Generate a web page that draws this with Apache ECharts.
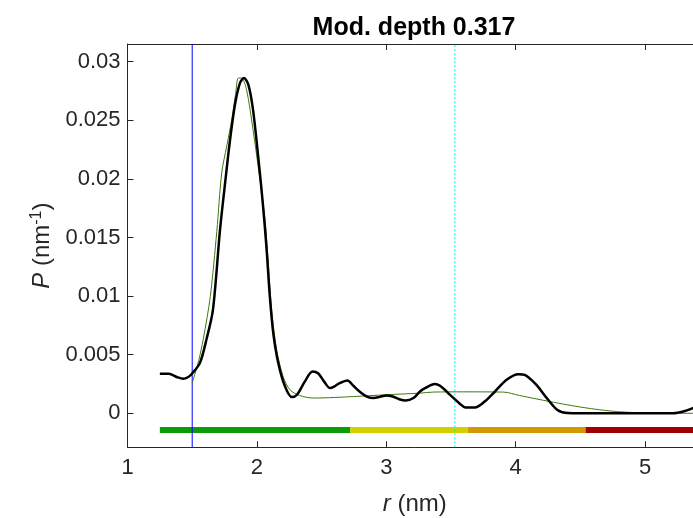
<!DOCTYPE html>
<html>
<head>
<meta charset="utf-8">
<script src="https://cdn.jsdelivr.net/npm/echarts@6/dist/echarts.min.js"></script>
<style>
html,body{margin:0;padding:0;overflow:hidden;background:#fff;width:693px;height:518px;}
#c{width:760px;height:518px;}
</style>
</head>
<body>
<div id="c"></div>
<script>
// ---- data ----
const titleText = 'Mod. depth 0.317';
const xTicks = [1, 2, 3, 4, 5];
const yTicks = [0, 0.005, 0.01, 0.015, 0.02, 0.025, 0.03];
const xRange = [1, 5.44];
const yRange = [-0.0029, 0.0315];

const rBlack = [1.25, 1.32, 1.38, 1.43, 1.47, 1.50, 1.56, 1.61, 1.66, 1.715, 1.76, 1.79, 1.83, 1.87, 1.90, 1.935, 1.97, 2.01, 2.045, 2.075, 2.10, 2.127, 2.165, 2.217, 2.27, 2.31, 2.37, 2.43, 2.475, 2.52, 2.565, 2.60, 2.64, 2.70, 2.745, 2.80, 2.85, 2.90, 2.95, 3.00, 3.05, 3.10, 3.15, 3.21, 3.26, 3.30, 3.376, 3.43, 3.48, 3.52, 3.57, 3.61, 3.685, 3.76, 3.84, 3.93, 4.02, 4.07, 4.16, 4.24, 4.32, 4.40, 4.50, 4.70, 4.90, 5.10, 5.22, 5.295, 5.37, 5.44];
const pBlack = [0.00337, 0.00337, 0.0031, 0.00294, 0.0031, 0.0034, 0.0043, 0.0063, 0.0088, 0.01565, 0.0202, 0.0231, 0.0263, 0.0282, 0.0286, 0.028, 0.0259, 0.0219, 0.018, 0.0140, 0.00997, 0.0068, 0.0043, 0.0023, 0.00138, 0.00158, 0.0027, 0.00357, 0.0034, 0.0027, 0.00215, 0.0023, 0.00258, 0.0028, 0.00235, 0.0018, 0.00143, 0.0013, 0.0014, 0.00152, 0.00143, 0.0012, 0.00109, 0.0013, 0.00186, 0.00215, 0.00249, 0.00223, 0.0017, 0.0013, 0.0008, 0.0005, 0.0005, 0.001, 0.00186, 0.00286, 0.00334, 0.00328, 0.00243, 0.0013, 0.0003, 0.00002, 0, 0, 0, 0, 0, 0.00015, 0.00044, 0.0008];

const rGreen = [1.50, 1.55, 1.585, 1.64, 1.69, 1.728, 1.767, 1.805, 1.835, 1.856, 1.88, 1.92, 1.97, 2.024, 2.063, 2.09, 2.114, 2.153, 2.204, 2.256, 2.33, 2.436, 2.6, 2.745, 3.0, 3.26, 3.36, 3.6, 3.905, 4.03, 4.15, 4.265, 4.4, 4.52, 4.65, 4.78, 4.9, 5.04, 5.2, 5.44];
const pGreen = [0.00258, 0.0045, 0.0063, 0.00997, 0.0155, 0.0205, 0.0228, 0.025, 0.0272, 0.0286, 0.0286, 0.0276, 0.0242, 0.0199, 0.0165, 0.0125, 0.0088, 0.0054, 0.0031, 0.002, 0.00152, 0.0013, 0.00135, 0.00143, 0.00158, 0.00172, 0.00181, 0.00183, 0.00181, 0.00152, 0.00125, 0.001, 0.00072, 0.0005, 0.0003, 0.00015, 0.00007, 0.00002, 0, 0];

const rBlue = 1.5;       // blue vertical line
const rCyan = 3.53;      // cyan dotted line
const barEdges = [1.25, 2.72, 3.63, 4.54, 5.44];
const barColors = ['#0a9a0a', '#d4d000', '#d29a00', '#a00000'];
const barLevel = -0.00143;

// ---- chart ----
const chart = echarts.init(document.getElementById('c'), null, {renderer: 'canvas'});
const font = '"Liberation Sans", Arial, Helvetica, sans-serif';
const axisCol = '#262626';

const series = [];
for (let i = 0; i < barColors.length; i++) {
  series.push({
    type: 'line', symbol: 'none', silent: true,
    data: [[barEdges[i], barLevel], [barEdges[i + 1], barLevel]],
    lineStyle: {color: barColors[i], width: 6, cap: 'butt'}, z: 2
  });
}
series.push({
  type: 'line', symbol: 'none', silent: true, z: 3,
  data: [[rBlue, yRange[0]], [rBlue, yRange[1]]],
  lineStyle: {color: '#0000ff', width: 1}
});
series.push({
  type: 'line', symbol: 'none', silent: true, z: 3,
  data: [[rCyan, yRange[0]], [rCyan, yRange[1]]],
  lineStyle: {color: '#00f0f0', width: 1, type: [2, 2]}
});
series.push({
  type: 'line', symbol: 'none', silent: true, z: 4,
  data: rGreen.map((r, i) => [r, pGreen[i]]),
  smooth: 0.3,
  lineStyle: {color: '#3a7a0a', width: 1}
});
series.push({
  type: 'line', symbol: 'none', silent: true, z: 5,
  data: rBlack.map((r, i) => [r, pBlack[i]]),
  smooth: 0.3,
  lineStyle: {color: '#000', width: 2.5}
});

const axisLineStyle = {show: true, onZero: false, lineStyle: {color: axisCol, width: 1}};
const tickStyle = {show: true, inside: true, length: 6, lineStyle: {color: axisCol}};

chart.setOption({
  animation: false,
  title: {
    text: titleText, left: 409, top: 11, textAlign: 'center',
    textStyle: {fontFamily: font, fontSize: 25, fontWeight: 'bold', color: '#000'}
  },
  grid: {left: 127.5, top: 44, width: 574.5, height: 403.3, containLabel: false, outerBoundsMode: 'none'},
  xAxis: [{
    type: 'value', min: xRange[0], max: xRange[1], interval: 1, position: 'bottom',
    axisLine: axisLineStyle, axisTick: tickStyle,
    axisLabel: {color: axisCol, fontSize: 22, fontFamily: font, margin: 10,
      formatter: v => (xTicks.indexOf(v) >= 0 ? String(v) : '')},
    splitLine: {show: false},
    name: '{i|r} (nm)', nameLocation: 'middle', nameGap: 45,
    nameTextStyle: {color: axisCol, fontSize: 24, fontFamily: font,
      rich: {i: {fontStyle: 'italic', fontSize: 24, fontFamily: font, color: axisCol}}}
  }, {
    type: 'value', min: xRange[0], max: xRange[1], interval: 1, position: 'top',
    axisLine: axisLineStyle, axisTick: tickStyle,
    axisLabel: {show: false}, splitLine: {show: false}
  }],
  yAxis: [{
    type: 'value', min: yRange[0], max: yRange[1], splitNumber: 7,
    axisLine: axisLineStyle, axisTick: tickStyle,
    axisLabel: {color: axisCol, fontSize: 22, fontFamily: font, margin: 7,
      showMinLabel: false, showMaxLabel: false,
      formatter: v => {
        const m = yTicks.find(t => Math.abs(t - v) < 1e-9);
        return m === undefined ? '' : String(m);
      }},
    splitLine: {show: false},
    name: '{i|P} (nm{sup|-1})', nameLocation: 'middle', nameGap: 70, nameRotate: 90,
    nameTextStyle: {color: axisCol, fontSize: 24, fontFamily: font,
      rich: {
        i: {fontStyle: 'italic', fontSize: 24, fontFamily: font, color: axisCol},
        sup: {fontSize: 16, fontFamily: font, color: axisCol, verticalAlign: 'bottom', padding: [0, 0, 12, 0]}
      }}
  }],
  series: series
});
</script>
</body>
</html>
